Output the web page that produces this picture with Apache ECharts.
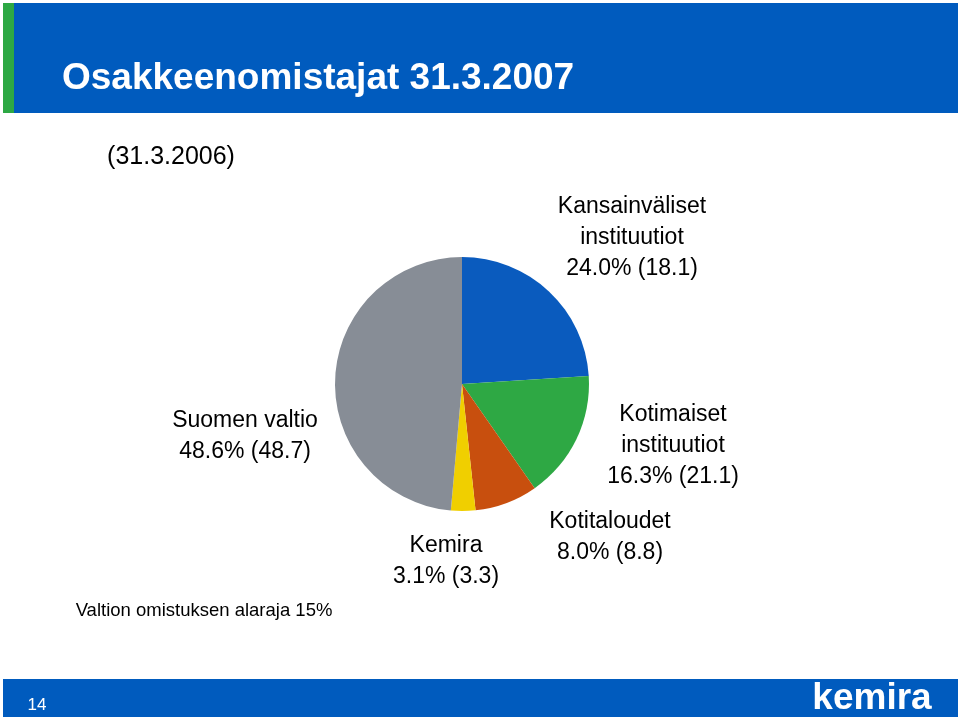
<!DOCTYPE html>
<html>
<head>
<meta charset="utf-8">
<script src="https://cdn.jsdelivr.net/npm/echarts@6/dist/echarts.min.js"></script>
<style>html,body{margin:0;padding:0;background:#fff}#c{width:960px;height:720px}</style>
</head>
<body>
<div id="c"></div>
<script>
// ---- data ----
var categories = ['Kansainväliset\ninstituutiot', 'Kotimaiset\ninstituutiot', 'Kotitaloudet', 'Kemira', 'Suomen valtio'];
var share2007 = [24.0, 16.3, 8.0, 3.1, 48.6];
var share2006 = [18.1, 21.1, 8.8, 3.3, 48.7];
var titleText = 'Osakkeenomistajat 31.3.2007';
var subtitleText = '(31.3.2006)';
var noteText = 'Valtion omistuksen alaraja 15%';
var pageNumber = '14';
var logoText = 'kemira';

// ---- layout / styles ----
var sliceColors = ['#0A5BBE', '#2EA844', '#C84F0E', '#F0CF00', '#878D96'];
var labelXY = [[632, 238], [673, 446], [610, 537], [446, 561], [245, 436]];
var FONT = 'Liberation Sans, Arial, sans-serif';

var chart = echarts.init(document.getElementById('c'), null, {renderer: 'canvas'});
chart.setOption({
  animation: false,
  backgroundColor: '#ffffff',
  graphic: [
    {type: 'rect', shape: {x: 3, y: 3, width: 955, height: 110}, style: {fill: '#005BBE'}, z: 1},
    {type: 'rect', shape: {x: 3, y: 3, width: 11, height: 110}, style: {fill: '#2DA844'}, z: 2},
    {type: 'text', x: 62, y: 79, style: {text: titleText, fill: '#ffffff', font: 'bold 37px ' + FONT, textVerticalAlign: 'middle'}, z: 3},
    {type: 'text', x: 171, y: 157, style: {text: subtitleText, fill: '#000', font: '25px ' + FONT, textAlign: 'center', textVerticalAlign: 'middle'}, z: 3},
    {type: 'text', x: 204, y: 611, style: {text: noteText, fill: '#000', font: '18.5px ' + FONT, textAlign: 'center', textVerticalAlign: 'middle'}, z: 3},
    {type: 'rect', shape: {x: 3, y: 679, width: 955, height: 38}, style: {fill: '#005BBE'}, z: 1},
    {type: 'text', x: 37, y: 705, style: {text: pageNumber, fill: '#ffffff', font: '17px ' + FONT, textAlign: 'center', textVerticalAlign: 'middle'}, z: 3},
    {type: 'text', x: 872, y: 699, style: {text: logoText, fill: '#ffffff', font: 'bold 37px ' + FONT, textAlign: 'center', textVerticalAlign: 'middle'}, z: 3}
  ],
  series: [{
    type: 'pie',
    center: [462, 384],
    radius: [0, 127],
    startAngle: 90,
    clockwise: true,
    silent: true,
    itemStyle: {borderWidth: 0},
    data: categories.map(function (n, i) {
      return {name: n, value: share2007[i], itemStyle: {color: sliceColors[i]}};
    }),
    label: {
      show: true,
      color: '#000',
      fontFamily: FONT,
      fontSize: 23,
      lineHeight: 31,
      align: 'center',
      formatter: function (p) {
        var i = p.dataIndex;
        return p.name + '\n' + share2007[i].toFixed(1) + '% (' + share2006[i].toFixed(1) + ')';
      }
    },
    labelLine: {show: false},
    labelLayout: function (p) {
      var xy = labelXY[p.dataIndex];
      return {x: xy[0], y: xy[1], align: 'center', verticalAlign: 'middle', hideOverlap: false};
    }
  }]
});
</script>
</body>
</html>
